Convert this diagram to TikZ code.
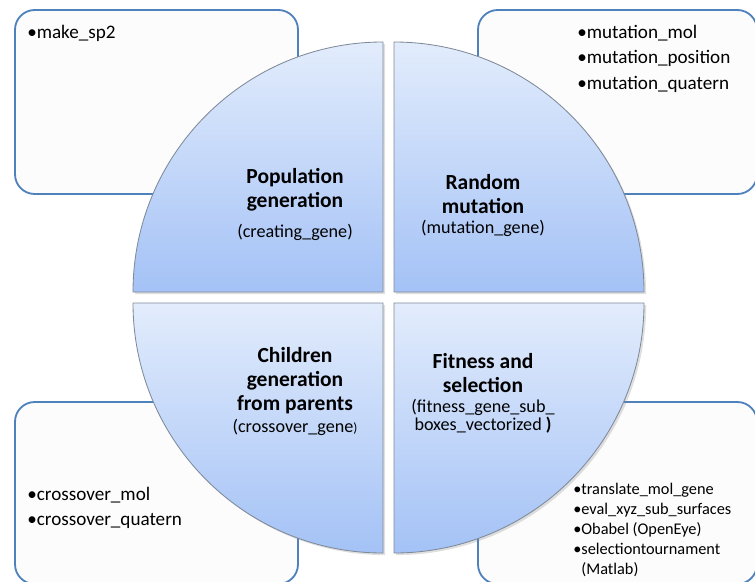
\documentclass[tikz,border=0pt]{standalone}
\usepackage{fontspec}
\setmainfont{Carlito}
\usepackage{xcolor}
\usetikzlibrary{shadows}

\definecolor{boxline}{HTML}{4F81BD}
\definecolor{boxfill}{HTML}{FCFCFC}
\definecolor{quadtop}{HTML}{E2ECFC}
\definecolor{quadbot}{HTML}{A4C2F6}
\definecolor{quadline}{HTML}{7F8A99}

\begin{document}
\begin{tikzpicture}[
    x=0.025cm, y=0.025cm,
    listbox/.style={draw=boxline, fill=boxfill, line width=1.3pt, rounded corners=14pt},
    quad/.style={draw=quadline, line width=0.6pt, top color=quadtop, bottom color=quadbot, drop shadow={opacity=0.25, shadow xshift=1.5pt, shadow yshift=-1.5pt}},
    title/.style={font=\fontsize{15.3}{17}\selectfont\bfseries, align=center, inner sep=0pt},
    code/.style={font=\fontsize{12.9}{12.5}\selectfont, align=center, inner sep=0pt},
    items/.style={font=\fontsize{13.6}{18.2}\selectfont, align=left, anchor=west, inner sep=0pt},
    smallitems/.style={font=\fontsize{11.6}{14.2}\selectfont, align=left, anchor=west, inner sep=0pt}
]
    \useasboundingbox (0,0) rectangle (755,581);
    \clip (0,0) rectangle (755,581);

    % === LAYER 1: list boxes (behind the circle) ===
    \path[listbox] (15,387) rectangle (298,571);
    \path[listbox] (478,387) rectangle (757,571);
    \path[listbox] (15,-3) rectangle (298,179);
    \path[listbox] (478,-3) rectangle (757,179);

    % box contents
    \node[items] (spList) at (27,548) {•make\_sp2};
    \node[items] (mutList) at (577,522.5) {•mutation\_mol\\•mutation\_position\\•mutation\_quatern};
    \node[items] (crossList) at (27,73) {•crossover\_mol\\•crossover\_quatern};
    \node[smallitems] (fitList) at (573,51) {•translate\_mol\_gene\\•eval\_xyz\_sub\_surfaces\\•Obabel (OpenEye)\\•selectiontournament\\\hphantom{•}(Matlab)};

    % === LAYER 2: four quadrants of the circle ===
    \path[quad] (383,289) -- (133,289) arc (180:90:250) -- cycle;
    \path[quad] (394,289) -- (394,539) arc (90:0:250) -- cycle;
    \path[quad] (383,278) -- (133,278) arc (180:270:250) -- cycle;
    \path[quad] (394,278) -- (644,278) arc (0:-90:250) -- cycle;

    % Population generation
    \node[title] (popTitle) at (295,391.5) {Population\\generation};
    \node[code] (popCode) at (295,349) {(creating\_gene)};

    % Random mutation
    \node[title] (mutTitle) at (483,387) {Random\\mutation};
    \node[code] (mutCode) at (483,353) {(mutation\_gene)};

    % Children generation
    \node[title] (childTitle) at (295,200) {Children\\generation\\from parents};
    \node[code] (childCode) at (295,154) {(crossover\_gene{\fontsize{9.5}{9.5}\selectfont )}};

    % Fitness and selection
    \node[title] (fitTitle) at (483,208) {Fitness and\\selection};
    \node[code] (fitCode) at (483,164.5) {(fitness\_gene\_sub\_\\boxes\_vectorized \textbf{)}};
\end{tikzpicture}
\end{document}
